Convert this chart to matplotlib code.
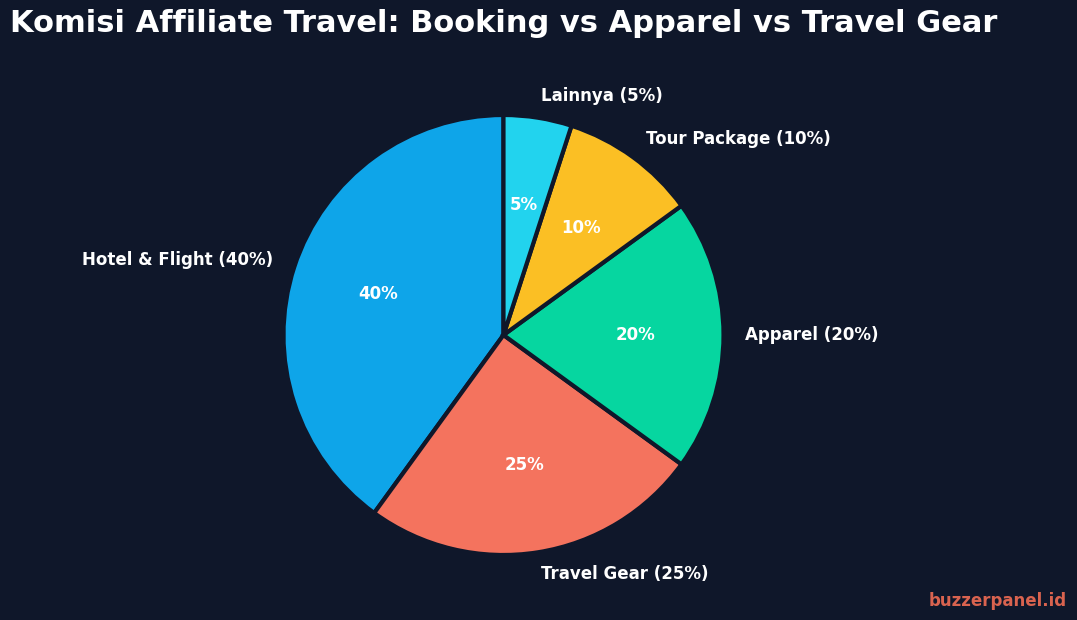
import matplotlib
matplotlib.use("Agg")
import matplotlib.pyplot as plt

categories = ["Hotel & Flight", "Travel Gear", "Apparel", "Tour Package", "Lainnya"]
values = [40, 25, 20, 10, 5]
colors = ["#0ea5e9", "#f4735e", "#06d6a0", "#fbbf24", "#22d3ee"]
bg = "#0f172a"

labels = [f"{c} ({v}%)" for c, v in zip(categories, values)]

fig = plt.figure(figsize=(10.77, 6.2), dpi=100, facecolor=bg)
size = 550
cx, cy = 503.5, 335
ax = fig.add_axes([(cx - size / 2) / 1077, (620 - cy - size / 2) / 620, size / 1077, size / 620])
ax.set_facecolor(bg)

wedges, texts, autotexts = ax.pie(
    values, labels=labels, colors=colors, startangle=90, counterclock=True,
    autopct="%1.0f%%", pctdistance=0.6, labeldistance=1.1,
    wedgeprops=dict(edgecolor=bg, linewidth=3),
    textprops=dict(color="white", fontsize=12, fontweight="bold"),
)
for t in autotexts:
    t.set_color("white")
    t.set_fontsize(12)
    t.set_fontweight("bold")
ax.set_aspect("equal")

fig.text(10 / 1077, 1 - 9 / 620, "Komisi Affiliate Travel: Booking vs Apparel vs Travel Gear",
         color="white", fontsize=22, fontweight="bold", ha="left", va="top")
fig.text(1 - 10 / 1077, 10 / 620, "buzzerpanel.id", color="#d9634f", fontsize=12,
         fontweight="bold", ha="right", va="bottom")

fig.savefig("out.png", dpi=100, facecolor=bg)
